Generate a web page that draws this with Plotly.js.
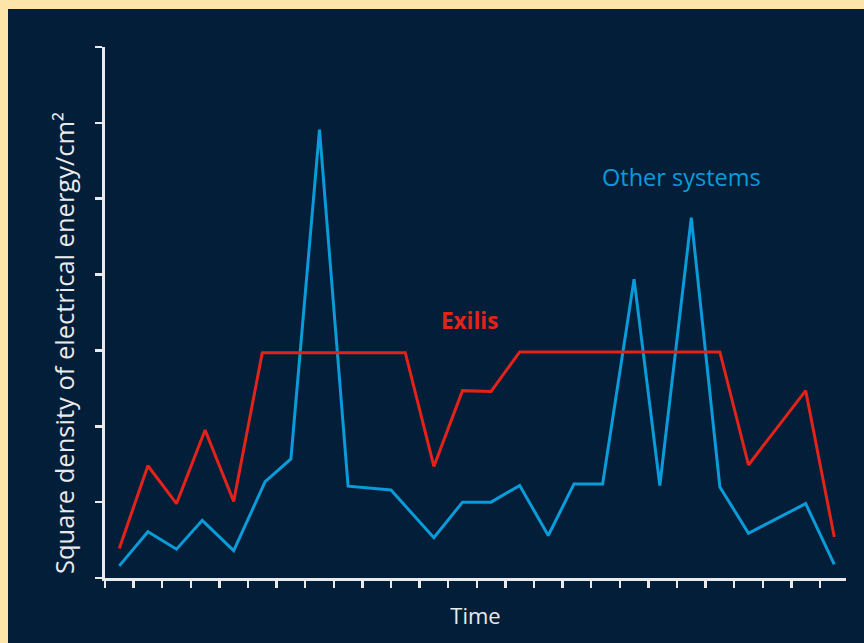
<!DOCTYPE html>
<html>
<head>
<meta charset="utf-8">
<script src="https://cdn.plot.ly/plotly-3.0.1.min.js"></script>
<style>
  html, body { margin: 0; padding: 0; background: #fde4a8; width: 864px; height: 643px; overflow: hidden; }
  #chart { position: absolute; left: 8px; top: 9px; width: 856px; height: 634px; }
</style>
</head>
<body>
<div id="chart"></div>
<script>
// Time slots (category index along the time axis)
const otherX = [0, 1, 2, 2.9, 4, 5.1, 6, 7, 8, 9.5, 11, 12, 13, 14, 15, 15.9, 16.9, 18, 18.9, 20, 21, 22, 24, 25];
const otherY = [0.16, 0.61, 0.38, 0.76, 0.36, 1.27, 1.57, 5.91, 1.21, 1.16, 0.53, 1.0, 1.0, 1.22, 0.56, 1.24, 1.24, 3.94, 1.22, 4.75, 1.2, 0.59, 0.98, 0.18];

const exilisX = [0, 1, 2, 3, 4, 5, 10, 11, 12, 13, 14, 21, 22, 24, 25];
const exilisY = [0.39, 1.48, 0.98, 1.95, 1.01, 2.97, 2.97, 1.47, 2.47, 2.46, 2.98, 2.98, 1.49, 2.47, 0.54];

const xTickVals = [-0.5, 0.5, 1.5, 2.5, 3.5, 4.5, 5.5, 6.5, 7.5, 8.5, 9.5, 10.5, 11.5, 12.5, 13.5, 14.5, 15.5, 16.5, 17.5, 18.5, 19.5, 20.5, 21.5, 22.5, 23.5, 24.5];
const yTickVals = [0, 1, 2, 3, 4, 5, 6, 7];

const seriesNames = ["Exilis", "Other systems"];
const xTitle = "Time";
const yTitle = "Square density of electrical energy/cm²";

const RED = "#e2231a";
const BLUE = "#0a9bd9";
const NAVY = "#031e39";
const AXIS = "#e9eaec";
const FONT = "'Open Sans', 'Noto Sans', sans-serif";

const traces = [
  { x: otherX, y: otherY, mode: "lines", name: seriesNames[1], line: { color: BLUE, width: 3 }, hoverinfo: "skip" },
  { x: exilisX, y: exilisY, mode: "lines", name: seriesNames[0], line: { color: RED, width: 3 }, hoverinfo: "skip" }
];

const layout = {
  width: 856, height: 634,
  margin: { l: 97, r: 18, t: 38, b: 65, pad: 0 },
  paper_bgcolor: NAVY,
  plot_bgcolor: NAVY,
  showlegend: false,
  font: { family: FONT, color: AXIS, size: 22 },
  xaxis: {
    range: [-0.5, 25.41],
    tickmode: "array", tickvals: xTickVals, showticklabels: false,
    ticks: "outside", ticklen: 7, tickwidth: 2.5, tickcolor: AXIS,
    showline: true, linecolor: AXIS, linewidth: 3,
    showgrid: false, zeroline: false, fixedrange: true,
    title: { text: xTitle, font: { family: FONT, size: 22, color: AXIS }, standoff: 22 },
    automargin: false
  },
  yaxis: {
    range: [0, 7],
    tickmode: "array", tickvals: yTickVals, showticklabels: false,
    ticks: "outside", ticklen: 7, tickwidth: 2.5, tickcolor: AXIS,
    showline: true, linecolor: AXIS, linewidth: 3,
    showgrid: false, zeroline: false, fixedrange: true,
    automargin: false
  },
  annotations: [
    { text: "<b>" + seriesNames[0] + "</b>", x: 12.24, y: 3.40, xref: "x", yref: "y", showarrow: false,
      font: { family: FONT, size: 22.5, color: RED } },
    { text: seriesNames[1], x: 19.67, y: 5.29, xref: "x", yref: "y", showarrow: false,
      font: { family: FONT, size: 23.5, color: BLUE } },
    { text: yTitle, textangle: -90, xref: "paper", yref: "paper", x: -0.055, y: 0.443,
      xanchor: "center", yanchor: "middle", showarrow: false,
      font: { family: FONT, size: 25.5, color: AXIS } }
  ]
};

Plotly.newPlot("chart", traces, layout, { displayModeBar: false, staticPlot: true });
</script>
</body>
</html>
